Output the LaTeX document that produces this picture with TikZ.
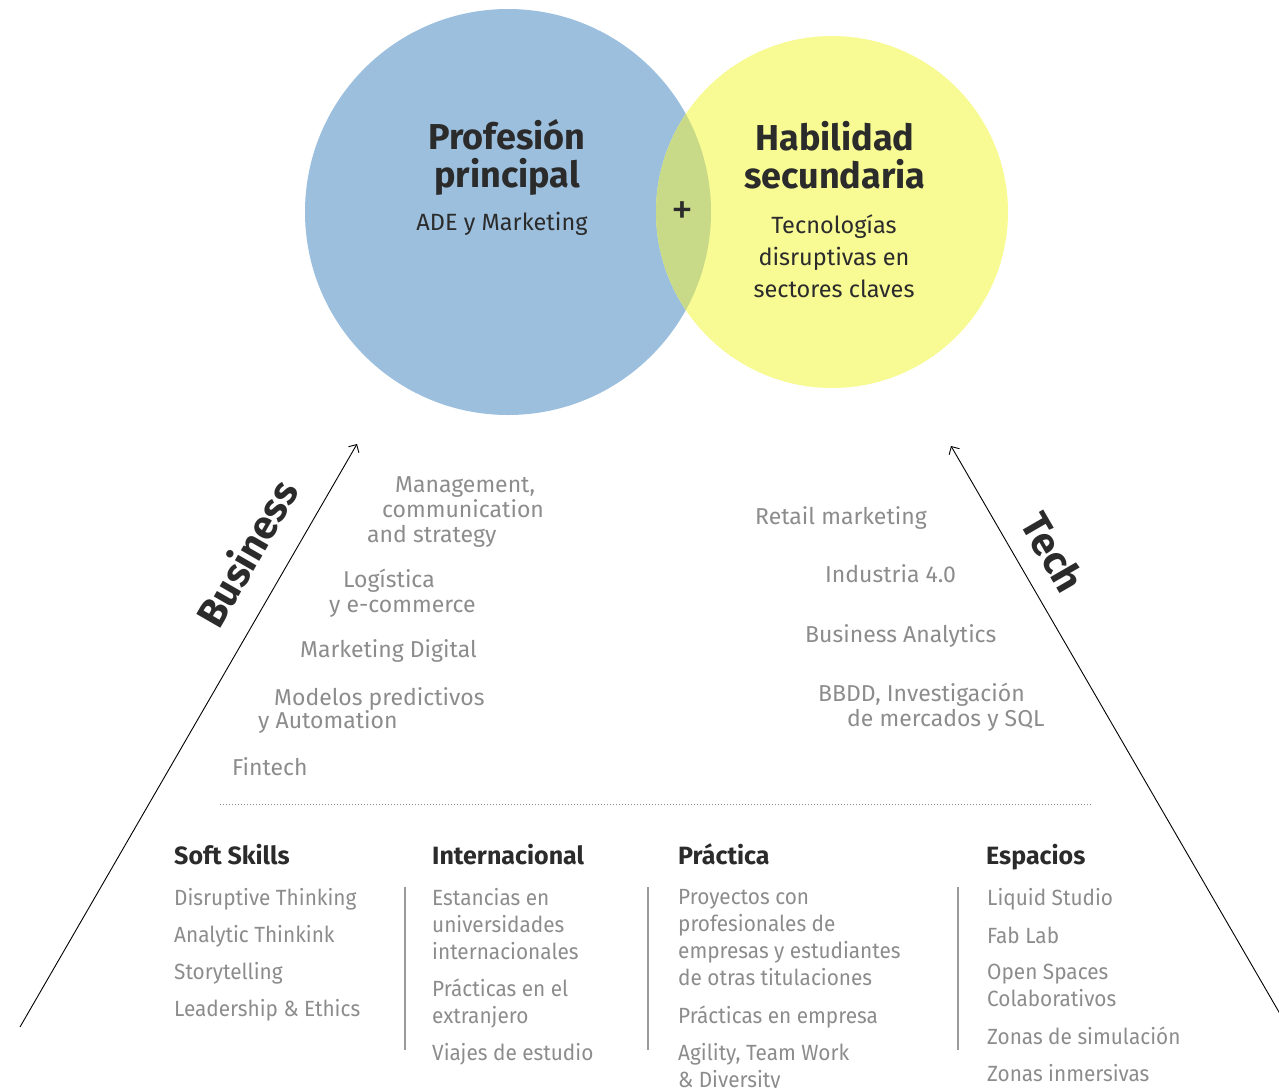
\documentclass[tikz,border=0pt]{standalone}
\usepackage{fontspec}
\setmainfont{Fira Sans}
\newfontfamily\condfont[FakeStretch=0.945]{Fira Sans}
\usepackage{xcolor}
\usetikzlibrary{arrows.meta}
\usetikzlibrary{positioning}
\definecolor{circblue}{HTML}{9BBFDD}
\definecolor{circyellow}{HTML}{F8FA94}
\definecolor{circboth}{HTML}{C8DA88}
\definecolor{inkdark}{HTML}{2B2B2B}
\definecolor{inkgray}{HTML}{8C8C8C}
\definecolor{rulegray}{HTML}{9A9A9A}
\tikzstyle{circtitle} = [font=\fontsize{36}{38}\selectfont\bfseries, text=inkdark, align=center, inner sep=0pt]
\tikzstyle{circsub}   = [font=\fontsize{23.5}{32}\selectfont, text=inkdark, align=center, inner sep=0pt]
\tikzstyle{plussign}  = [font=\fontsize{44}{44}\selectfont, text=inkdark, inner sep=0pt]
\tikzstyle{axislabel} = [font=\fontsize{40}{42}\selectfont\bfseries, text=inkdark, inner sep=0pt]
\tikzstyle{axis}      = [draw=black, line width=0.9pt, -{Straight Barb[length=6pt,width=12pt]}]
\tikzstyle{topic}     = [font=\fontsize{23}{25}\selectfont, text=inkgray, align=left, anchor=west, inner sep=0pt]
\tikzstyle{colhead}   = [font=\fontsize{25}{27}\selectfont\bfseries, text=inkdark, anchor=west, text depth=0pt, inner sep=0pt]
\tikzstyle{colitem}   = [font=\condfont\fontsize{22}{27}\selectfont, text=inkgray, align=left, anchor=west, text depth=5pt, inner sep=0pt, yshift=-2.5pt]
\tikzstyle{divider}   = [draw=rulegray, line width=1.4pt]

\begin{document}
\begin{tikzpicture}[x=1pt, y=-1pt]
	\useasboundingbox (0,0) rectangle (1279,1087);
	% circles
	\fill[circblue] (508,212) circle [radius=203pt];
	\fill[circyellow] (832,212) circle [radius=176pt];
	\begin{scope}
		\clip (508,212) circle [radius=203pt];
		\fill[circboth] (832,212) circle [radius=176pt];
	\end{scope}
	\node [circtitle] (prof) at (507,157) {Profesión\\principal};
	\node [circsub] (profsub) at (502,224) {ADE y Marketing};
	\node [circtitle] (hab) at (835,155) {Habilidad\\secundaria};
	\node [circsub] (habsub) at (834,256) {Tecnologías\\disruptivas en\\sectores claves};
	\node [plussign] (plus) at (682,213) {+};

	% axes
	\coordinate (bstart) at (20,1027);
	\coordinate (bend) at (357,444);
	\coordinate (tstart) at (1283,1019);
	\coordinate (tend) at (951,446);
	\path [axis] (bstart) -- (bend);
	\path [axis] (tstart) -- (tend);
	\node [axislabel, rotate=60] (blab) at (246,553) {Business};
	\node [axislabel, rotate=-60] (tlab) at (1053,552) {Tech};

	% business topics
	\node [topic] (mgmt) at (367,512) {\hspace*{28pt}Management,\\\hspace*{15pt}communication\\and strategy};
	\node [topic] (logi) at (329,593) {\hspace*{14pt}Logística\\y e-commerce};
	\node [topic] (mkt) at (300,651) {Marketing Digital};
	\node [topic, font=\fontsize{23}{23}\selectfont] (model) at (258,710) {\hspace*{16pt}Modelos predictivos\\y Automation};
	\node [topic] (fin) at (232,767) {Fintech};

	% tech topics
	\node [topic] (retail) at (755,518) {Retail marketing};
	\node [topic] (ind) at (825,574) {Industria 4.0};
	\node [topic] (ba) at (805,636) {Business Analytics};
	\node [topic] (bbdd) at (818,707) {BBDD, Investigación\\\hspace*{29pt}de mercados y SQL};

	\draw [inkgray, line width=1pt, dash pattern=on 1pt off 2pt] (220,804) -- (1091,804);

	% columns
	\node [colhead] (soft) at (174,854) {Soft Skills};
	\node [colhead] (intl) at (432,854) {Internacional};
	\node [colhead] (prac) at (678,854) {Práctica};
	\node [colhead] (esp) at (986,854) {Espacios};

	\foreach \txt [count=\i] in {Disruptive Thinking, Analytic Thinkink, Storytelling, Leadership \& Ethics}
		\node [colitem] (soft\i) at (174,{897+37*(\i-1)}) {\txt};

	\node [colitem] (intl1) at (432,924) {Estancias en\\universidades\\internacionales};
	\node [colitem] (intl2) at (432,1001) {Prácticas en el\\extranjero};
	\node [colitem] (intl3) at (432,1052) {Viajes de estudio};

	\node [colitem] (prac1) at (678,937) {Proyectos con\\profesionales de\\empresas y estudiantes\\de otras titulaciones};
	\node [colitem] (prac2) at (678,1015) {Prácticas en empresa};
	\node [colitem] (prac3) at (678,1065) {Agility, Team Work\\\& Diversity};

	\node [colitem] (esp1) at (987,897) {Liquid Studio};
	\node [colitem] (esp2) at (987,935) {Fab Lab};
	\node [colitem] (esp3) at (987,985) {Open Spaces\\Colaborativos};
	\node [colitem] (esp4) at (987,1036) {Zonas de simulación};
	\node [colitem] (esp5) at (987,1073) {Zonas inmersivas};

	\draw [divider] (405,887) -- (405,1050);
	\draw [divider] (648,887) -- (648,1050);
	\draw [divider] (958,887) -- (958,1050);
\end{tikzpicture}
\end{document}
